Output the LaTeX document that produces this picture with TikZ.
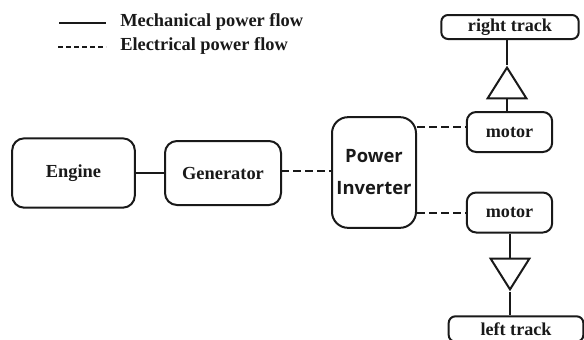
\documentclass[tikz,border=0pt]{standalone}
\usepackage{fontspec}
\setmainfont{Liberation Serif}
\newfontfamily\inverterfont{Open Sans}
\usetikzlibrary{shapes.geometric}
\definecolor{flowblack}{gray}{0.1}
\newcommand\flowtextstyle{\fontsize{13.8}{14}\selectfont\bfseries}
\newcommand\tracktextstyle{\fontsize{13.6}{14}\selectfont\bfseries}
\newcommand\invertertextstyle{\fontsize{13.8}{24}\selectfont\inverterfont\bfseries}
\tikzset{
  flowbox/.style={draw=flowblack, line width=1.5pt, rounded corners=9pt, inner sep=0pt, text=flowblack, font=\flowtextstyle},
  trackbox/.style={flowbox, rounded corners=5pt, font=\tracktextstyle},
  gearbox/.style={draw=flowblack, line width=1.5pt, isosceles triangle, isosceles triangle stretches, shape border rotate=#1, minimum width=29pt, minimum height=23pt, inner sep=0pt},
  mechflow/.style={draw=flowblack, line width=1.5pt},
  elecflow/.style={draw=flowblack, line width=1.5pt, dash pattern=on 6pt off 3pt},
  legendflow/.style={draw=flowblack, line width=1.5pt, dash pattern=on 3.5pt off 2.5pt},
  legendtext/.style={anchor=west, inner sep=0pt, text=flowblack, font=\flowtextstyle}
}

\begin{document}
\begin{tikzpicture}[x=.75pt, y=-.75pt]
    \useasboundingbox (0, 0) rectangle (584, 339);
    \clip (0, 0) rectangle (584, 339);
    \coordinate (mechstart) at (59, 23);
    \coordinate (mechend) at (106, 23);
    \coordinate (elecstart) at (58, 47);
    \coordinate (elecend) at (106, 47);
    \coordinate (topport) at (467, 127);
    \coordinate (bottomport) at (467, 213);
    \coordinate (generatorport) at (281, 171);
    \node [legendtext] (mechlabel) at (120, 22) {Mechanical power flow};
    \node [legendtext] (eleclabel) at (120, 46) {Electrical power flow};
    \draw [mechflow] (mechstart) -- (mechend);
    \draw [legendflow] (elecstart) -- (elecend);
    \node [flowbox, minimum width=92pt, minimum height=52pt] (engine) at (73.5, 173) {Engine};
    \node [flowbox, minimum width=87pt, minimum height=48pt] (generator) at (223, 173) {Generator};
    \node [flowbox, rounded corners=12pt, minimum width=63pt, minimum height=83pt, align=center, font=\invertertextstyle] (inverter) at (374, 172.5) {Power\\Inverter};
    \node [trackbox, rounded corners=7pt, minimum width=64pt, minimum height=30pt] (topmotor) at (509.5, 132) {motor};
    \node [trackbox, rounded corners=7pt, minimum width=64pt, minimum height=30pt] (bottommotor) at (509.5, 212.5) {motor};
    \node [trackbox, minimum width=103pt, minimum height=18pt] (righttrack) at (510, 27) {right track};
    \node [trackbox, minimum width=101pt, minimum height=19pt] (lefttrack) at (516, 329) {left track};
    \node [gearbox=90, anchor=north] (toptriangle) at (507, 65) {};
    \node [gearbox=-90, anchor=south] (bottomtriangle) at (510, 292) {};
    \draw [mechflow] (engine) -- (generator);
    \draw [elecflow] (generatorport) -- (generatorport -| inverter.west);
    \draw [elecflow] (inverter.east |- topport) -- (topport);
    \draw [elecflow] (inverter.east |- bottomport) -- (bottomport);
    \draw [mechflow] (toptriangle.north) -- (toptriangle.north |- righttrack.south);
    \draw [mechflow] (toptriangle.south) -- (toptriangle.south |- topmotor.north);
    \draw [mechflow] (bottomtriangle.north) -- (bottomtriangle.north |- bottommotor.south);
    \draw [mechflow] (bottomtriangle.south) -- (bottomtriangle.south |- lefttrack.north);
\end{tikzpicture}
\end{document}
